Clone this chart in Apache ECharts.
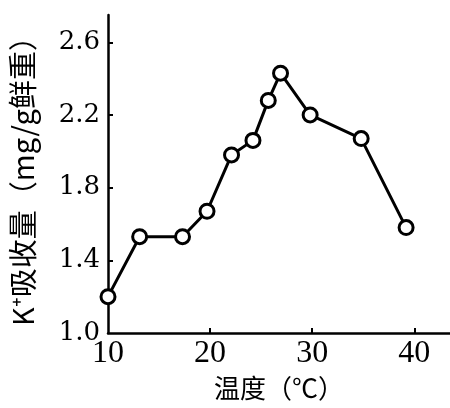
<!DOCTYPE html>
<html><head><meta charset="utf-8">
<script src="https://cdn.jsdelivr.net/npm/echarts@6/dist/echarts.min.js"></script>
<style>html,body{margin:0;padding:0;background:#fff}#c{width:450px;height:408px}</style>
</head><body><div id="c"></div>
<script>
const temperature = [10, 13.1, 17.3, 19.7, 22.1, 24.2, 25.7, 26.9, 29.8, 34.8, 39.2];
const uptake = [1.20, 1.53, 1.53, 1.67, 1.98, 2.06, 2.28, 2.43, 2.20, 2.07, 1.58];
const xTicks = [10, 20, 30, 40];
const yTicks = [1.0, 1.4, 1.8, 2.2, 2.6];
const xName = '温度（℃）';
const yName = 'K⁺吸收量（mg/g鲜重）';

const chart = echarts.init(document.getElementById('c'), null, {renderer: 'canvas'});
chart.setOption({
  animation: false,
  backgroundColor: '#fff',
  grid: {left: 108, right: 0, top: 15, bottom: 75},
  xAxis: {
    type: 'value', min: 10, max: 43.5, interval: 10,
    name: xName, nameLocation: 'middle', nameGap: 42,
    nameTextStyle: {fontFamily: 'Noto Sans CJK SC', fontSize: 26, color: '#000'},
    axisLine: {show: true, onZero: false, lineStyle: {color: '#000', width: 2.5}},
    axisTick: {show: true, inside: true, length: 5, customValues: xTicks.slice(1), lineStyle: {color: '#000', width: 2}},
    axisLabel: {fontFamily: 'Liberation Serif', fontSize: 32, color: '#000', margin: 5, customValues: xTicks,
      formatter: v => String(v)},
    splitLine: {show: false}
  },
  yAxis: {
    type: 'value', min: 1.0, max: 2.75, interval: 0.4,
    name: yName, nameLocation: 'middle', nameGap: 71, nameRotate: 90,
    nameTextStyle: {fontFamily: 'Noto Sans CJK SC', fontSize: 29, color: '#000'},
    axisLine: {show: true, onZero: false, lineStyle: {color: '#000', width: 2.5}},
    axisTick: {show: true, inside: true, length: 5, customValues: yTicks.slice(1), lineStyle: {color: '#000', width: 2}},
    axisLabel: {fontFamily: 'DejaVu Serif', fontSize: 26, color: '#000', margin: 8, customValues: yTicks,
      formatter: v => v.toFixed(1)},
    splitLine: {show: false}
  },
  series: [{
    type: 'line',
    data: temperature.map((t, i) => [t, uptake[i]]),
    symbol: 'circle', symbolSize: 14,
    lineStyle: {color: '#000', width: 3},
    itemStyle: {color: '#fff', borderColor: '#000', borderWidth: 3},
    clip: false
  }]
});
</script></body></html>
